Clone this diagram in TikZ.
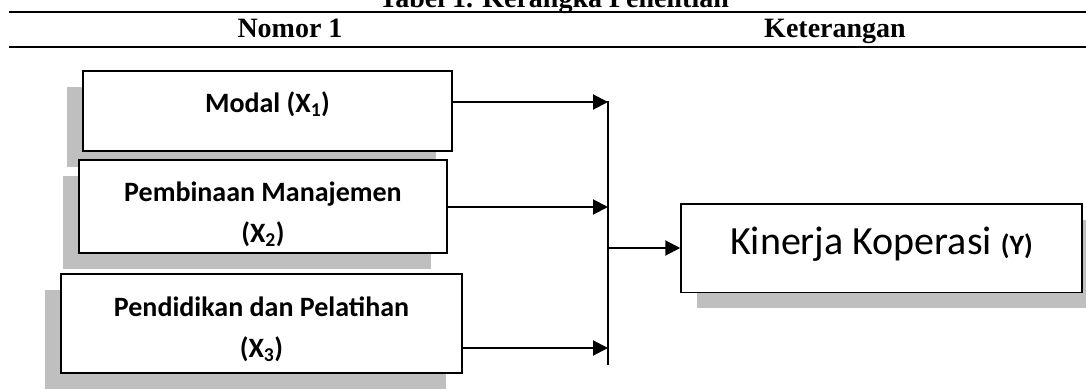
\documentclass[tikz,border=0pt]{standalone}
\usepackage{fontspec}
\setmainfont{Liberation Serif}
\newfontfamily\calibri{Carlito}
\usetikzlibrary{arrows.meta,shadows}
\definecolor{bayangan}{RGB}{191,191,191}
\tikzset{
  kotak/.style={draw,line width=1.5pt,fill=white,inner sep=0pt},
  isi/.style={inner sep=0pt,align=center,font=\calibri\bfseries\fontsize{28}{41}\selectfont},
  bayang/.style={drop shadow={shadow xshift=#1,shadow yshift=-16pt,fill=bayangan,opacity=1}},
  panah/.style={line width=2pt,-{Triangle[length=15pt,width=15pt]}},
  garis/.style={line width=2pt},
  judul/.style={anchor=base,font=\bfseries\fontsize{28}{34}\selectfont}
}
\begin{document}
\begin{tikzpicture}[x=1pt,y=-1pt]
\useasboundingbox (0,0) rectangle (1086,390);
\node[judul] (tabel) at (554,8) {Tabel 1. Kerangka Penelitian};
\draw[garis](9,12)--(1086,12);
\node[judul] (nomor) at (290,38) {Nomor 1};
\node[judul] (ket) at (835,38) {Keterangan};
\draw[garis](9,47)--(1086,47);
\node[kotak,bayang=-16pt,minimum width=369pt,minimum height=80pt] (modal) at (267.5,111) {};
\node[kotak,bayang=-16pt,minimum width=368pt,minimum height=93pt] (bina) at (263,206.5) {};
\node[kotak,bayang=-16pt,minimum width=401pt,minimum height=99pt] (didik) at (261.5,323.5) {};
\node[kotak,bayang=16pt,minimum width=401pt,minimum height=88.5pt] (kinerja) at (881.5,248) {};
\node[isi,yshift=7pt] (tmodal) at (modal) {Modal (X\textsubscript{1})};
\node[isi,yshift=-8pt] (tbina) at (bina) {Pembinaan Manajemen\\(X\textsubscript{2})};
\node[isi,yshift=-6pt] (tdidik) at (didik) {Pendidikan dan Pelatihan\\(X\textsubscript{3})};
\node[isi,yshift=4pt,font=\calibri\fontsize{40}{48}\selectfont] (tkinerja) at (kinerja) {Kinerja Koperasi {\bfseries\fontsize{28}{34}\selectfont(Y)}};
\coordinate (atas) at (608,101);
\coordinate (bawah) at (608,365);
\draw[garis](atas)--(bawah);
\coordinate (t1) at (608,102);
\coordinate (t2) at (608,207);
\coordinate (t3) at (608,348);
\coordinate (gabung) at (608,248);
\draw[panah](modal.east|-t1)--(t1);
\draw[panah](bina.east|-t2)--(t2);
\draw[panah](didik.east|-t3)--(t3);
\draw[panah](gabung)--(kinerja);
\end{tikzpicture}
\end{document}
